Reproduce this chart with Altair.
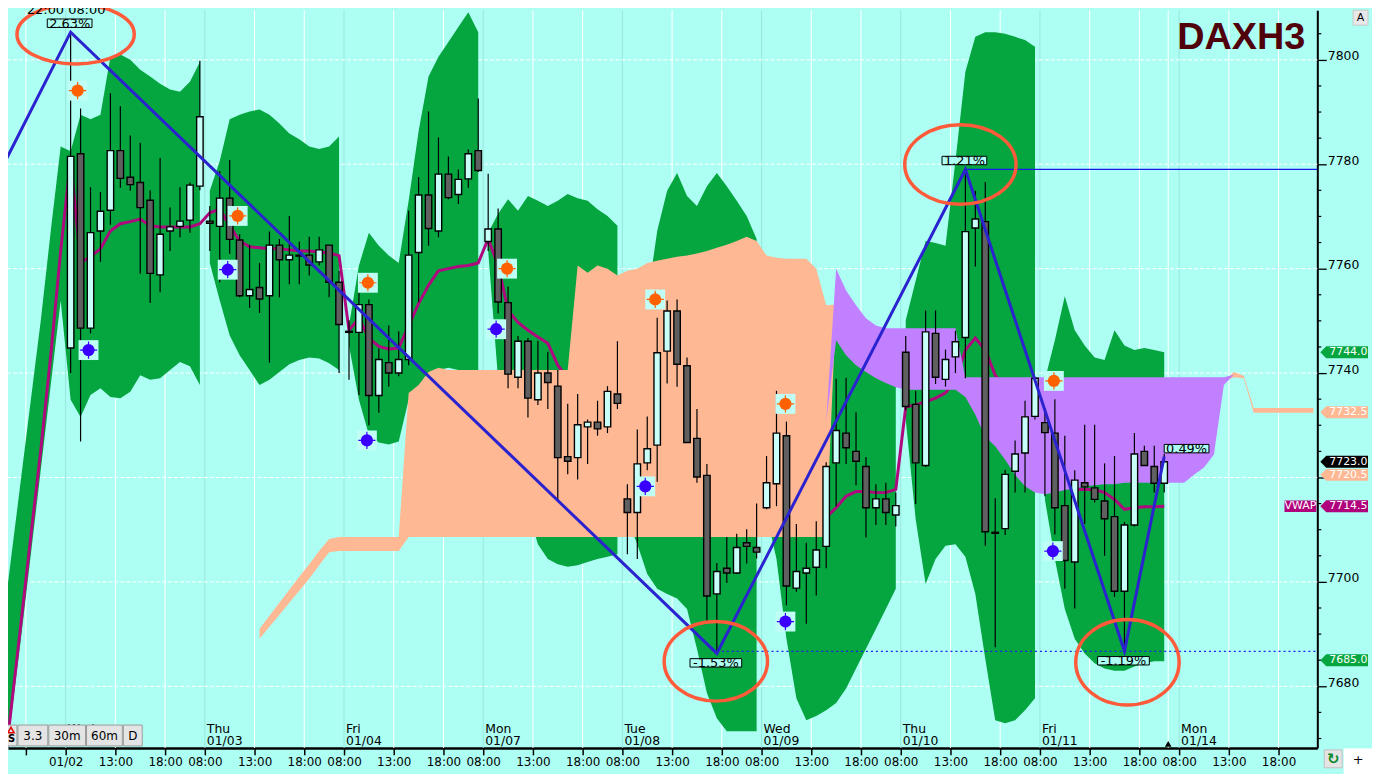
import altair as alt
import pandas as pd

# ---------------- data ----------------
# 60-minute bars, slot 0 = Wed 01/02 08:00, 14 bars per trading day
opens = [
    7744.8, 7782.0, 7748.6, 7767.2, 7771.2, 7782.6, 7777.5, 7776.5, 7773.1, 7758.8, 7767.2, 7768.1, 7769.3, 7775.8,
    7769.1, 7768.1, 7773.5, 7765.5, 7754.8, 7756.4, 7754.8, 7764.5, 7761.7, 7762.6, 7762.6, 7761.3, 7764.5, 7757.4,
    7748.0, 7747.8, 7753.1, 7735.7, 7742.0, 7740.0, 7742.6, 7763.1, 7774.1, 7767.2, 7778.1, 7774.2, 7777.2, 7782.6,
    7765.2, 7767.6, 7753.5, 7739.2, 7746.1, 7734.9, 7740.0, 7737.5, 7724.0, 7723.8, 7729.7, 7730.6, 7729.7, 7736.0,
    7715.9, 7713.3, 7722.8, 7726.2, 7744.2, 7751.9, 7741.4, 7727.5, 7720.4, 7697.7, 7702.6, 7701.7, 7707.5, 7706.6,
    7714.2, 7718.8, 7728.0, 7698.8, 7701.7, 7702.8, 7706.8, 7722.8, 7728.5, 7725.0, 7722.1, 7714.2, 7715.9, 7712.8,
    7744.0, 7734.0, 7722.3, 7747.6, 7738.8, 7743.1, 7746.8, 7767.8, 7769.0, 7709.5, 7710.2, 7721.2, 7724.7, 7731.7,
    7730.5, 7728.5, 7714.6, 7703.8, 7719.0, 7718.0, 7715.5, 7712.5, 7698.2, 7710.9, 7725.0, 7722.1, 7718.9,
]
highs = [
    7805.3, 7790.7, 7775.6, 7774.7, 7793.6, 7791.1, 7785.5, 7784.1, 7775.0, 7781.2, 7771.7, 7775.6, 7776.5, 7799.8,
    7772.0, 7778.7, 7780.8, 7766.6, 7764.6, 7761.1, 7767.1, 7765.7, 7770.1, 7765.2, 7766.1, 7766.1, 7764.5, 7759.6,
    7750.1, 7755.4, 7754.1, 7744.7, 7749.1, 7748.0, 7771.1, 7777.5, 7790.1, 7785.1, 7781.5, 7779.0, 7782.8, 7792.6,
    7778.2, 7771.5, 7756.6, 7747.1, 7746.7, 7746.2, 7744.1, 7740.6, 7734.1, 7736.0, 7731.1, 7734.7, 7737.5, 7746.1,
    7718.7, 7729.2, 7731.7, 7750.6, 7753.9, 7754.1, 7743.0, 7733.1, 7722.6, 7703.6, 7708.6, 7709.2, 7710.1, 7715.0,
    7724.1, 7736.6, 7730.7, 7711.1, 7707.5, 7711.6, 7722.9, 7738.9, 7739.1, 7732.5, 7723.9, 7718.7, 7719.0, 7717.1,
    7747.1, 7736.6, 7752.0, 7752.0, 7744.5, 7748.1, 7779.0, 7774.9, 7776.6, 7716.0, 7721.5, 7727.1, 7734.7, 7739.3,
    7733.3, 7735.0, 7728.0, 7721.4, 7730.1, 7730.1, 7722.7, 7724.1, 7711.5, 7728.5, 7726.1, 7726.1, 7724.5,
]
lows = [
    7740.0, 7726.9, 7747.6, 7761.3, 7768.4, 7775.5, 7774.9, 7759.0, 7753.4, 7755.5, 7763.4, 7766.0, 7766.9, 7775.0,
    7763.4, 7757.4, 7762.8, 7754.5, 7752.5, 7751.5, 7742.0, 7754.5, 7757.0, 7757.0, 7758.7, 7760.6, 7754.5, 7740.0,
    7738.7, 7735.8, 7730.0, 7732.4, 7737.4, 7739.4, 7741.5, 7753.6, 7764.4, 7766.0, 7773.3, 7772.4, 7775.5, 7778.5,
    7763.4, 7751.4, 7737.1, 7737.1, 7731.5, 7733.9, 7733.1, 7715.5, 7720.6, 7719.6, 7722.6, 7728.0, 7728.5, 7733.1,
    7705.3, 7704.4, 7721.4, 7719.2, 7738.0, 7737.4, 7726.6, 7719.0, 7692.5, 7686.3, 7699.8, 7701.5, 7703.5, 7704.5,
    7713.9, 7714.5, 7695.5, 7698.1, 7692.0, 7697.4, 7702.6, 7714.5, 7722.6, 7718.5, 7708.5, 7710.9, 7710.9, 7710.6,
    7732.9, 7714.9, 7722.0, 7737.9, 7737.4, 7740.0, 7739.0, 7760.4, 7706.9, 7687.5, 7709.0, 7717.1, 7717.1, 7731.1,
    7716.4, 7709.1, 7698.7, 7694.9, 7711.1, 7715.2, 7705.0, 7697.1, 7686.7, 7710.6, 7722.2, 7717.1, 7717.1,
]
closes = [
    7781.5, 7748.6, 7766.9, 7771.0, 7782.6, 7777.3, 7776.1, 7771.7, 7759.1, 7766.6, 7768.0, 7769.1, 7776.0, 7789.1,
    7768.7, 7773.5, 7765.6, 7754.8, 7756.0, 7754.2, 7764.5, 7761.7, 7762.6, 7762.4, 7760.7, 7763.6, 7757.4, 7749.3,
    7747.8, 7753.1, 7735.7, 7742.6, 7740.0, 7742.6, 7762.6, 7774.1, 7767.7, 7778.1, 7773.6, 7777.1, 7782.0, 7778.8,
    7767.6, 7753.6, 7739.8, 7746.1, 7735.2, 7740.0, 7738.2, 7723.8, 7723.1, 7730.1, 7730.6, 7729.3, 7736.5, 7734.2,
    7713.3, 7722.6, 7725.5, 7743.9, 7751.9, 7741.7, 7726.7, 7720.1, 7697.3, 7702.0, 7701.7, 7706.6, 7706.8, 7705.7,
    7719.0, 7728.5, 7699.2, 7702.0, 7702.6, 7706.1, 7722.1, 7729.0, 7725.7, 7723.1, 7714.2, 7715.9, 7713.3, 7714.6,
    7733.6, 7722.8, 7747.9, 7739.2, 7742.6, 7746.0, 7767.1, 7769.5, 7709.6, 7709.3, 7720.6, 7724.5, 7731.6, 7739.0,
    7728.6, 7714.2, 7704.1, 7719.5, 7718.2, 7715.8, 7712.1, 7698.2, 7710.9, 7724.5, 7722.3, 7718.9, 7723.0,
]

# VWAP bands and VWAP, slots -7 .. 110
band_first_slot = -7
band_upper = [
    7689.1, 7704.4, 7719.6, 7734.9, 7750.1, 7767.2, 7783.4,
    7782.5, 7789.5, 7788.6, 7789.5, 7800.6, 7801.0, 7800.0, 7798.1, 7796.8, 7795.4, 7794.3, 7793.9, 7795.8, 7799.6,
    7774.9, 7780.6, 7788.6, 7789.5, 7790.1, 7790.5, 7789.5, 7787.8, 7785.9, 7784.8, 7783.4, 7782.9, 7783.4, 7785.3,
    7749.1, 7760.6, 7766.9, 7764.4, 7762.5, 7761.1, 7773.0, 7786.3, 7796.8, 7800.6, 7803.4, 7806.3, 7809.1, 7805.3,
    7766.9, 7770.5, 7773.3, 7771.1, 7773.9, 7773.0, 7772.0, 7773.0, 7774.3, 7773.5, 7773.0, 7771.4, 7770.1, 7768.2,
    7715.8, 7738.7, 7753.9, 7767.2, 7774.9, 7778.3, 7773.9, 7772.0, 7775.8, 7778.3, 7775.8, 7773.0, 7770.1, 7765.7,
    7716.8, 7729.2, 7738.7, 7742.5, 7744.4, 7745.3, 7746.3, 7747.2, 7748.2, 7748.2, 7747.2, 7747.2, 7747.2, 7747.2,
    7750.1, 7757.7, 7765.3, 7764.9, 7764.4, 7780.6, 7797.7, 7804.4, 7805.3, 7805.3, 7805.0, 7804.4, 7803.8, 7802.5,
    7738.7, 7746.3, 7754.7, 7748.2, 7745.3, 7743.0, 7742.5, 7748.2, 7745.3, 7744.4, 7744.8, 7744.4, 7744.0,
]
band_lower = [
    7658.7, 7673.9, 7689.1, 7705.3, 7721.5, 7737.7, 7753.9,
    7734.9, 7731.6, 7735.8, 7737.1, 7735.4, 7735.2, 7736.4, 7739.6, 7738.7, 7739.0, 7740.6, 7742.1, 7741.3, 7737.7,
    7761.1, 7753.9, 7747.2, 7743.4, 7740.6, 7737.7, 7738.7, 7740.2, 7741.7, 7742.5, 7743.0, 7742.8, 7741.9, 7740.6,
    7745.3, 7734.9, 7728.2, 7726.7, 7726.3, 7726.9, 7734.9, 7736.4, 7738.7, 7740.6, 7741.0, 7740.6, 7740.2, 7740.0,
    7763.4, 7738.7, 7731.1, 7721.5, 7713.9, 7707.2, 7704.4, 7703.4, 7702.9, 7703.2, 7703.8, 7704.4, 7704.8, 7705.3,
    7712.0, 7707.2, 7701.5, 7698.7, 7697.7, 7696.8, 7694.8, 7687.2, 7678.7, 7673.9, 7671.4, 7671.4, 7671.4, 7671.4,
    7712.9, 7704.4, 7689.1, 7677.7, 7673.5, 7674.3, 7675.4, 7676.8, 7679.6, 7683.4, 7687.2, 7691.0, 7694.8, 7698.7,
    7731.1, 7712.0, 7699.6, 7704.4, 7706.9, 7707.2, 7704.8, 7697.7, 7685.3, 7673.5, 7672.9, 7673.5, 7675.4, 7677.7,
    7715.8, 7704.4, 7694.8, 7689.1, 7686.3, 7684.4, 7683.4, 7683.0, 7683.0, 7683.8, 7684.4, 7684.8, 7684.8,
]
vwap = [
    7658.7, 7675.4, 7692.0, 7708.8, 7725.3, 7743.4, 7763.4,
    7781.0, 7761.1, 7762.3, 7763.8, 7767.2, 7768.6, 7769.0, 7769.5, 7768.2, 7768.0, 7768.0, 7768.0, 7768.0, 7768.6,
    7770.7, 7771.4, 7768.2, 7765.3, 7764.2, 7764.0, 7763.8, 7763.8, 7763.6, 7763.4, 7763.4, 7763.2, 7763.0, 7762.5,
    7748.2, 7750.5, 7746.7, 7745.1, 7744.6, 7744.8, 7749.1, 7753.3, 7756.8, 7759.6, 7760.0, 7760.4, 7760.6, 7761.1,
    7765.7, 7760.6, 7752.0, 7749.7, 7748.2, 7746.9, 7745.7, 7741.5, 7739.0, 7737.7, 7736.8, 7736.4, 7735.8, 7735.2,
    7714.9, 7716.8, 7718.7, 7721.5, 7724.4, 7726.3, 7726.3, 7726.0, 7723.4, 7721.5, 7720.0, 7719.2, 7718.7, 7718.3,
    7715.8, 7717.7, 7714.9, 7712.9, 7712.0, 7711.6, 7712.4, 7714.2, 7716.4, 7717.3, 7717.3, 7717.1, 7717.1, 7717.7,
    7733.5, 7733.9, 7734.5, 7735.2, 7736.2, 7738.7, 7744.4, 7746.7, 7744.4, 7739.6, 7737.1, 7735.8, 7734.9, 7734.5,
    7731.1, 7725.3, 7720.5, 7717.7, 7717.7, 7717.7, 7717.1, 7715.8, 7713.9, 7714.2, 7714.4, 7714.4, 7714.5,
]

# Ichimoku cloud spans, slots 19 .. 125
cloud_first_slot = 19
span_a = (
    [7691.0, 7693.5, 7696.0, 7698.5, 7701.0, 7703.4, 7705.9, 7708.2]
    + [7708.6] * 7
    + [7736.2, 7737.7, 7740.2, 7741.0]
    + [7740.6] * 13
    + [7760.6, 7759.2, 7760.6, 7760.0, 7758.7, 7759.6, 7760.0, 7761.1, 7761.5, 7761.9, 7762.3, 7762.5, 7762.9,
       7763.4, 7764.0, 7764.6, 7765.3, 7766.1, 7765.3, 7762.5, 7762.1, 7761.9, 7761.9, 7761.9, 7760.0, 7753.0]
    + [7746.3, 7743.4, 7741.5, 7740.2, 7739.0, 7738.1, 7737.3]
    + [7736.8] * 6
    + [7735.4, 7732.0, 7727.8, 7726.0, 7723.4, 7720.5, 7718.3, 7717.1, 7716.8, 7717.1, 7717.6, 7717.9, 7718.3,
       7718.5, 7718.7, 7718.7]
    + [7719.0] * 7
    + [7720.5, 7721.9, 7724.4, 7737.7, 7740.2, 7739.5]
    + [7733.3] * 7
)
span_b = (
    [7689.1, 7691.4, 7693.7, 7696.0, 7698.3, 7700.6, 7703.2, 7705.7]
    + [7705.9] * 7
    + [7708.6] * 43
    + [7760.0, 7755.8, 7753.0, 7750.5, 7749.1, 7748.6, 7748.6]
    + [7748.6] * 6
    + [7739.2] * 28
    + [7739.0]
    + [7732.4] * 7
)

# zig-zag pivots and their labels
zz_slots = [-8, 0, 65, 90, 106, 110]
zz_prices = [7775.2, 7805.3, 7686.3, 7779.0, 7686.7, 7724.0]
zz_labels = ["", "2.63%", "-1.53%", "1.21%", "-1.19%", "0.49%"]
zz_place = ["", "above", "below", "above", "below", "right"]

# signal markers
sell_slots = [0.7, 16.8, 29.9, 43.9, 58.8, 71.9, 98.9]
sell_prices = [7794.1, 7770.1, 7757.3, 7760.0, 7754.1, 7734.1, 7738.5]
buy_slots = [1.8, 15.8, 29.8, 42.8, 57.8, 71.9, 98.8]
buy_prices = [7744.4, 7759.8, 7727.1, 7748.4, 7718.3, 7692.4, 7705.9]

# horizontal level lines
level_start = [90, 65]
level_price = [7779.0, 7686.7]

# right-hand value tags
tag_values = [7744.0, 7732.5, 7720.5, 7723.0, 7714.5, 7685.0]
tag_texts = ["7744.0", "7732.5", "7720.5", "7723.0", "7714.5", "7685.0"]

# time axis
day_names = ["Wed", "Thu", "Fri", "Mon", "Tue", "Wed", "Thu", "Fri", "Mon"]
day_dates = ["01/02", "01/03", "01/04", "01/07", "01/08", "01/09", "01/10", "01/11", "01/14"]
hour_labels = ["08:00", "13:00", "18:00"]
button_labels = ["3.3", "30m", "60m", "D"]

# ---------------- styling ----------------
BG = "#aefff3"
GREEN = "#05a540"
MAG = "#b0087e"
SALMON = "#ffb894"
PURPLE = "#c080ff"
ZZ = "#2b22d0"
RED = "#ff5a3a"
FONT = "DejaVu Sans"
W, H = 1317, 742
xs = alt.Scale(domain=[-6.3, 125.4], nice=False, zero=False, padding=0)
ys = alt.Scale(domain=[7668.2, 7809.5], nice=False, zero=False, padding=0)

# ---------------- tables built from the lists ----------------
ticks = [{"s": -4.5, "lab": "", "kind": "minor"}]
for d in range(len(day_dates)):
    for j, off in enumerate([-0.5, 4.5, 9.5]):
        lab = hour_labels[j]
        if d == 0 and j == 0:
            lab = day_dates[0]
        ticks.append({"s": 14 * d + off, "lab": lab, "kind": "day" if j == 0 else "minor"})
ticks_df = pd.DataFrame(ticks)
lab_map = "{" + ",".join("'%s':'%s'" % (str(t["s"]), t["lab"]) for t in ticks) + "}"

XAXIS = alt.Axis(values=list(ticks_df["s"]), labelExpr=lab_map + "[datum.value]", orient="bottom",
                 tickSize=7, tickColor="black", tickWidth=1.5, domainColor="black", domainWidth=2.5,
                 labelFont=FONT, labelFontSize=12, labelColor="black", labelPadding=2, grid=False,
                 title=None, labelFlush=False, labelOverlap=False, labelBound=False)
YAXIS = alt.Axis(orient="right", values=list(range(7680, 7801, 20)), format="d", tickSize=9, tickColor="black",
                 tickWidth=1.3, domainColor="black", domainWidth=2, labelFont=FONT, labelFontSize=12.5,
                 labelColor="black", labelPadding=1, labelBaseline="alphabetic", grid=False, title=None,
                 labelFlush=False)


def X(f):
    return alt.X(f, type="quantitative", scale=xs, axis=XAXIS, title=None)


def Y(f):
    return alt.Y(f, type="quantitative", scale=ys, axis=YAXIS, title=None)


one = pd.DataFrame({"k": [0]})

nb = len(band_upper)
band_df = pd.DataFrame({
    "s": list(range(band_first_slot, band_first_slot + nb)),
    "u": band_upper, "l": band_lower, "v": vwap,
})
band_df["day"] = band_df["s"].clip(lower=0) // 14

cd = pd.DataFrame({"s": list(range(len(opens))), "o": opens, "h": highs, "l": lows, "c": closes})
cd["dir"] = ["up" if c >= o else "down" for o, c in zip(opens, closes)]

cl = pd.DataFrame({"s": list(range(cloud_first_slot, cloud_first_slot + len(span_a))), "a": span_a, "b": span_b})
mid = (cl["a"] + cl["b"]) / 2
cl["st"] = cl["a"].where(cl["a"] >= cl["b"], mid)
cl["sb"] = cl["b"].where(cl["a"] >= cl["b"], mid)
cl["pt"] = cl["b"].where(cl["b"] > cl["a"], mid)
cl["pb"] = cl["a"].where(cl["b"] > cl["a"], mid)

zz = pd.DataFrame({"s": zz_slots, "p": zz_prices, "lab": zz_labels, "pl": zz_place})

layers = []

# grid
layers.append(alt.Chart(ticks_df).mark_rule(strokeWidth=1).encode(
    x=X("s"),
    color=alt.Color("kind:N", scale=alt.Scale(domain=["day", "minor"], range=["#96e6dc", "#ffffff"]), legend=None),
))
layers.append(alt.Chart(pd.DataFrame({"v": list(range(7680, 7801, 20))})).mark_rule(
    color="white", strokeWidth=1, strokeDash=[4, 2]).encode(y=Y("v")))
# current-time line
layers.append(alt.Chart(pd.DataFrame({"s": [110.4]})).mark_rule(color="white", strokeWidth=1).encode(x=X("s")))

# VWAP band
layers.append(alt.Chart(band_df).mark_area(color=GREEN, clip=True).encode(
    x=X("s"), y=Y("u"), y2="l:Q", detail="day:N"))
# VWAP
layers.append(alt.Chart(band_df).mark_line(color=MAG, strokeWidth=3, clip=True).encode(x=X("s"), y=Y("v")))
# cloud
layers.append(alt.Chart(cl).mark_area(color=SALMON, clip=True).encode(x=X("s"), y=Y("st"), y2="sb:Q"))
layers.append(alt.Chart(cl).mark_area(color=PURPLE, clip=True).encode(x=X("s"), y=Y("pt"), y2="pb:Q"))

# level lines
lv = pd.DataFrame({"s": level_start, "p": level_price})
layers.append(alt.Chart(lv.iloc[[0]]).mark_rule(color="#1a1aee", strokeWidth=1.3).encode(
    x=X("s"), x2=alt.value(W), y=Y("p")))
layers.append(alt.Chart(lv.iloc[[1]]).mark_rule(color="#2020ee", strokeWidth=1.2, strokeDash=[2, 3]).encode(
    x=X("s"), x2=alt.value(W), y=Y("p")))

# candles
layers.append(alt.Chart(cd).mark_rule(color="black", strokeWidth=1.2, clip=True).encode(
    x=X("s"), y=Y("l"), y2="h:Q"))
layers.append(alt.Chart(cd).mark_bar(size=6.5, stroke="black", strokeWidth=1.4, clip=True).encode(
    x=X("s"), y=Y("o"), y2="c:Q",
    fill=alt.Fill("dir:N", scale=alt.Scale(domain=["up", "down"], range=["#c8fff9", "#606060"]), legend=None)))

# signal markers
for ss, pp, col in [(sell_slots, sell_prices, "#ff6000"), (buy_slots, buy_prices, "#3a00ff")]:
    mdf = pd.DataFrame({"s": ss, "p": pp})
    layers.append(alt.Chart(mdf).mark_point(shape="square", size=400, filled=True, color="#bffff6",
                                            opacity=1).encode(x=X("s"), y=Y("p")))
    layers.append(alt.Chart(mdf).mark_point(shape="M-1,0L1,0M0,-1L0,1", size=300, filled=False, color=col,
                                            strokeWidth=1.2, opacity=1).encode(x=X("s"), y=Y("p")))
    layers.append(alt.Chart(mdf).mark_point(shape="circle", size=150, filled=True, color=col,
                                            opacity=1).encode(x=X("s"), y=Y("p")))

# zig-zag
layers.append(alt.Chart(zz).mark_line(color=ZZ, strokeWidth=3, clip=True).encode(x=X("s"), y=Y("p")))


# ellipses around the pivots
def ell_path(w, h):
    r = h / w
    return "M-1,0A1,%.3f 0 1,1 1,0A1,%.3f 0 1,1 -1,0Z" % (r, r)


ell_style = {1: (118, 60, 5, 2), 2: (104, 80, -1, 8), 3: (112, 80, -5, -5), 4: (104, 86, 3, 11)}
for idx, (w, h, dx, dy) in ell_style.items():
    layers.append(alt.Chart(zz.iloc[[idx]]).mark_point(
        shape=ell_path(w, h), size=w * w, filled=False, color=RED, strokeWidth=3.5, opacity=1,
        xOffset=dx, yOffset=dy).encode(x=X("s"), y=Y("p")))

# pivot labels in boxes
place_off = {"above": (-1, -9), "below": (-1, 9.5), "right": (22.5, -8)}
for pl, (dx, dy) in place_off.items():
    sub = zz[zz["pl"] == pl].copy()
    sub["bw"] = [45 if len(t) <= 5 else 52 for t in sub["lab"]]
    sub["path"] = ["M-1,-%.3fL1,-%.3fL1,%.3fL-1,%.3fZ" % ((8.5 / w,) * 4) for w in sub["bw"]]
    sub["sz"] = sub["bw"] ** 2
    layers.append(alt.Chart(sub).mark_point(filled=True, fill=BG, stroke="black", strokeWidth=1, opacity=1,
                                            xOffset=dx, yOffset=dy).encode(
        x=X("s"), y=Y("p"), shape=alt.Shape("path:N", scale=None, legend=None),
        size=alt.Size("sz:Q", scale=None, legend=None)))
    layers.append(alt.Chart(sub).mark_text(font=FONT, fontSize=13, color="black", xOffset=dx, yOffset=dy + 0.5,
                                           align="center", baseline="middle").encode(
        x=X("s"), y=Y("p"), text="lab:N"))

# title and top-left time stamp
layers.append(alt.Chart(one).mark_text(font="Liberation Sans", fontWeight="bold", fontSize=38, color="#50000a",
                                       align="left", baseline="alphabetic").encode(
    x=alt.value(1176), y=alt.value(39), text=alt.value("DAXH3")))
layers.append(alt.Chart(one).mark_text(font=FONT, fontSize=13, color="black", align="left",
                                       baseline="alphabetic").encode(
    x=alt.value(19), y=alt.value(4), text=alt.value("22:00 08:00")))

# right axis minor ticks
minor = pd.DataFrame({"v": [v for v in range(7670, 7810, 5) if v % 20 != 0]})
layers.append(alt.Chart(minor).mark_rule(color="black", strokeWidth=1.2).encode(
    y=Y("v"), x=alt.value(W), x2=alt.value(W + 4)))

# right tags
tags = pd.DataFrame({"v": tag_values, "t": tag_texts,
                     "bg": [GREEN, SALMON, SALMON, "#000000", "#b0007c", GREEN]})
tag_path = "M-1,0L-0.75,-0.25L1,-0.25L1,0.25L-0.75,0.25Z"
layers.append(alt.Chart(tags).mark_point(shape=tag_path, size=48 * 48, filled=True, opacity=1).encode(
    y=Y("v"), x=alt.value(W + 27), fill=alt.Fill("bg:N", scale=None, legend=None)))
layers.append(alt.Chart(tags).mark_text(font=FONT, fontSize=11, color="white", align="left",
                                        baseline="middle").encode(
    y=Y("v"), x=alt.value(W + 12), text="t:N"))
vw = tags[tags["t"] == "7714.5"]
layers.append(alt.Chart(vw).mark_point(shape="M-1,-0.36L1,-0.36L1,0.36L-1,0.36Z", size=32 * 32, filled=True,
                                       color="#b0007c", opacity=1).encode(y=Y("v"), x=alt.value(W - 17)))
layers.append(alt.Chart(vw).mark_text(font=FONT, fontSize=11, color="white", align="center",
                                      baseline="middle").encode(y=Y("v"), x=alt.value(W - 17),
                                                                text=alt.value("VWAP")))

# day labels above the time axis (the first date line is hidden behind the buttons)
days = pd.DataFrame({"s": [14 * d - 0.3 for d in range(len(day_names))], "n": day_names, "d": day_dates})
layers.append(alt.Chart(days).mark_text(font=FONT, fontSize=12.5, color="black", align="left",
                                        baseline="alphabetic").encode(x=X("s"), y=alt.value(H - 15), text="n:N"))
layers.append(alt.Chart(days.iloc[1:]).mark_text(font=FONT, fontSize=12.5, color="black", align="left",
                                                 baseline="alphabetic").encode(x=X("s"), y=alt.value(H - 3),
                                                                               text="d:N"))

# current-bar triangle
layers.append(alt.Chart(pd.DataFrame({"s": [110.4]})).mark_point(
    shape="triangle-up", size=45, filled=True, color="black", opacity=1).encode(x=X("s"), y=alt.value(H - 4)))


def box(x0, x1, y0, y1, fill, stroke="#9a9a9a"):
    return alt.Chart(one).mark_rect(fill=fill, stroke=stroke, strokeWidth=1).encode(
        x=alt.value(x0), x2=alt.value(x1), y=alt.value(y0), y2=alt.value(y1))


def label(x, y, t, size=12, color="black", weight="normal"):
    return alt.Chart(one).mark_text(font=FONT, fontSize=size, color=color, fontWeight=weight,
                                    align="center", baseline="middle").encode(
        x=alt.value(x), y=alt.value(y), text=alt.value(t))


# bottom-left buttons
layers.append(box(-8, 9, 719, 740, "#e4e4e4"))
layers.append(alt.Chart(one).mark_point(shape="triangle-up", size=40, filled=False, color="#e00000",
                                        strokeWidth=1.5, opacity=1).encode(x=alt.value(3), y=alt.value(724)))
layers.append(label(3.5, 733, "S", 10, "black", "bold"))
edges = [10, 41, 79, 116, 136]
for i, t in enumerate(button_labels):
    layers.append(box(edges[i], edges[i + 1] - 1, 719, 740, "#e4e4e4"))
    layers.append(label((edges[i] + edges[i + 1] - 1) / 2, 730, t, 12))

# bottom-right widget and top-right button
layers.append(box(W + 7, W + 25, H + 2, H + 20, "#e4e4e4", "#c0c0c0"))
layers.append(label(W + 16, H + 11, "\u21bb", 15, "#0a8a2a", "bold"))
layers.append(box(W + 27, W + 60, H + 1, H + 30, "#ffffff", "#ffffff"))
layers.append(label(W + 41, H + 12, "+", 13))
layers.append(box(W + 36, W + 51, 0, 15, "#e8e8e8", "#c8c8c8"))
layers.append(label(W + 43.5, 7.5, "A", 11))

chart = alt.layer(*layers).properties(
    width=W, height=H, background=BG,
    padding={"left": 0, "top": 0, "right": 55, "bottom": 24},
    autosize=alt.AutoSizeParams(type="none"),
).configure_view(stroke=None, fill=BG)

chart.save("out.html", embed_options={"renderer": "svg", "actions": False})
